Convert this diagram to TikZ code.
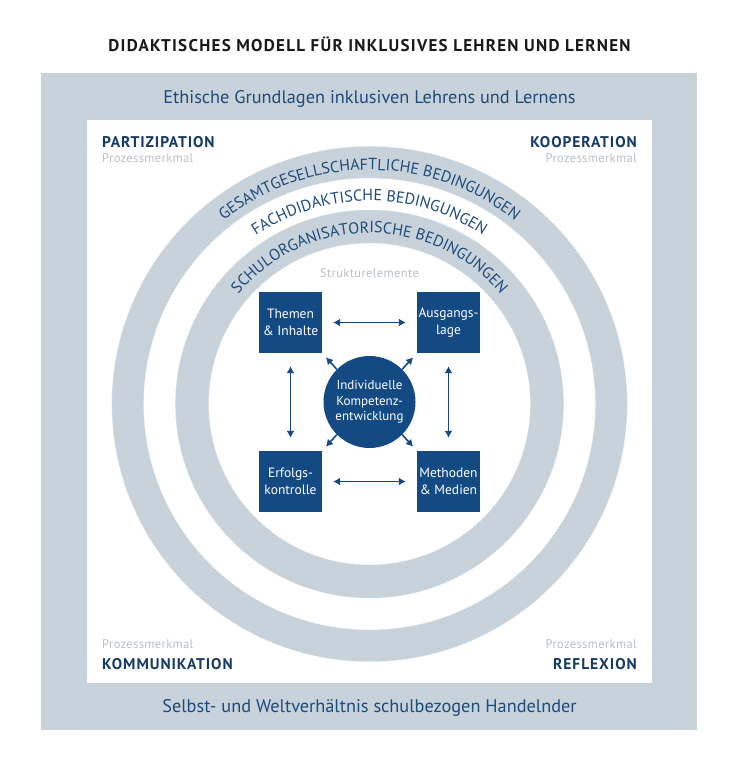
\documentclass[tikz,border=0pt]{standalone}
\usepackage{fontspec}
\setmainfont{PT Sans}
\usetikzlibrary{arrows.meta,decorations.text,decorations.pathmorphing}
\definecolor{bandgray}{RGB}{200,210,218}
\definecolor{boxblue}{RGB}{20,74,132}
\definecolor{textblue}{RGB}{30,75,125}
\definecolor{headnavy}{RGB}{22,58,100}
\definecolor{lightgray}{RGB}{185,192,198}
\definecolor{titleblack}{RGB}{25,25,25}
\newcommand\ringfont{\fontsize{16}{16}\selectfont}
\tikzset{
  band/.style={fill=bandgray, draw=none},
  corner/.style={font=\fontsize{15.5}{15.5}\selectfont\bfseries\addfontfeature{LetterSpace=6}, text=headnavy, inner sep=0pt},
  merkmal/.style={font=\fontsize{12.5}{12.5}\selectfont\addfontfeature{LetterSpace=3}, text=lightgray, inner sep=0pt},
  bandtext/.style={font=\fontsize{18.3}{18.3}\selectfont, text=textblue, inner sep=0pt},
  elembox/.style={fill=boxblue, minimum width=63pt, minimum height=61pt, inner sep=0pt, text=white, align=center, font=\fontsize{13.5}{16.5}\selectfont},
  kern/.style={circle, fill=boxblue, minimum size=92pt, inner sep=0pt, text=white, align=center, font=\fontsize{13}{15.5}\selectfont},
  dblarrow/.style={draw=boxblue, line width=1.6pt, {Latex[length=7pt,width=8pt]}-{Latex[length=7pt,width=8pt]}},
  sglarrow/.style={draw=boxblue, line width=1.6pt, -{Latex[length=7pt,width=8pt]}},
  ringtext/.style={decorate, decoration={text along path, text align=center, text color=textblue, text={#1}}}
}
\begin{document}
\begin{tikzpicture}[x=1pt,y=1pt]
\useasboundingbox (0,0) rectangle (739,768);
\fill[white] (0,0) rectangle (739,768);
% title
\node[font=\fontsize{17}{17}\selectfont\bfseries\addfontfeature{LetterSpace=7.5}, text=titleblack, inner sep=0pt] (title) at (369.5,724) {DIDAKTISCHES MODELL FÜR INKLUSIVES LEHREN UND LERNEN};
% frame
\fill[bandgray] (41,38) rectangle (697,695);
\fill[white] (87,85) rectangle (652,648);
\node[bandtext] (ethik) at (369.5,669) {Ethische Grundlagen inklusiven Lehrens und Lernens};
\node[bandtext] (selbst) at (369.5,60) {Selbst- und Weltverhältnis schulbezogen Handelnder};
% corners
\node[corner, anchor=west] (part) at (102,626) {PARTIZIPATION};
\node[merkmal, anchor=west] (partm) at (102,610) {Prozessmerkmal};
\node[corner, anchor=east] (koop) at (637,626) {KOOPERATION};
\node[merkmal, anchor=east] (koopm) at (637,610) {Prozessmerkmal};
\node[corner, anchor=west] (komm) at (102,104) {KOMMUNIKATION};
\node[merkmal, anchor=west] (kommm) at (102,124) {Prozessmerkmal};
\node[corner, anchor=east] (refl) at (637,104) {REFLEXION};
\node[merkmal, anchor=east] (reflm) at (637,124) {Prozessmerkmal};
% rings
\coordinate (rc) at (369.5,364);
\fill[bandgray, even odd rule, decorate, decoration={zigzag, segment length=1.8pt, amplitude=0.5pt}]
  (rc) circle[radius=257.5pt] (rc) circle[radius=226pt];
\fill[bandgray, even odd rule, decorate, decoration={zigzag, segment length=1.8pt, amplitude=0.5pt}]
  (rc) circle[radius=194pt] (rc) circle[radius=161pt];
\path[ringtext={|\ringfont|GESAMTGESELLSCHAFTLICHE BEDINGUNGEN}] (rc) ++(170:234) arc[start angle=170, end angle=10, radius=234pt];
\path[ringtext={|\ringfont|FACHDIDAKTISCHE BEDINGUNGEN}] (rc) ++(170:203) arc[start angle=170, end angle=10, radius=203pt];
\path[ringtext={|\ringfont|SCHULORGANISATORISCHE BEDINGUNGEN}] (rc) ++(170:171) arc[start angle=170, end angle=10, radius=171pt];
\node[merkmal] (struktur) at (369.5,495) {Strukturelemente};
% elements
\node[elembox] (tl) at (290.5,445.5) {Themen\\\& Inhalte};
\node[elembox] (tr) at (448.5,445.5) {Ausgangs-\\lage};
\node[elembox] (bl) at (290.5,286.5) {Erfolgs-\\kontrolle};
\node[elembox] (br) at (448.5,286.5) {Methoden\\\& Medien};
\node[kern] (c) at (369.5,366) {Individuelle\\Kompetenz-\\entwicklung};
% arrows
\draw[dblarrow, shorten <=11pt, shorten >=11pt] (tl.east) -- (tr.west);
\draw[dblarrow, shorten <=11pt, shorten >=11pt] (bl.east) -- (br.west);
\draw[dblarrow, shorten <=13pt, shorten >=13pt] (tl.south) -- (bl.north);
\draw[dblarrow, shorten <=13pt, shorten >=13pt] (tr.south) -- (br.north);
\draw[sglarrow, shorten >=5.5pt] (c.135) -- (tl.south east);
\draw[sglarrow, shorten >=5.5pt] (c.45) -- (tr.south west);
\draw[sglarrow, shorten >=5.5pt] (c.225) -- (bl.north east);
\draw[sglarrow, shorten >=5.5pt] (c.315) -- (br.north west);
\end{tikzpicture}
\end{document}
